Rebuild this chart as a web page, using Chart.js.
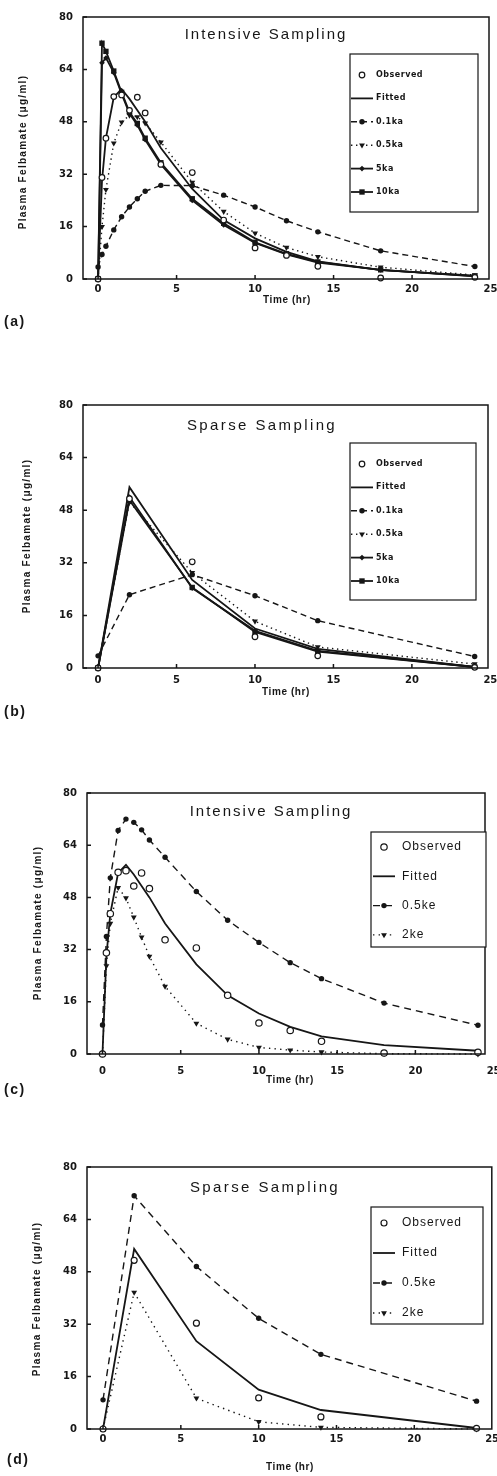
<!DOCTYPE html>
<html>
<head>
<meta charset="utf-8">
<script src="https://cdn.jsdelivr.net/npm/chart.js@4.4.0/dist/chart.umd.min.js"></script>
<style>
  html, body { margin: 0; padding: 0; background: #fff; }
  #page { position: relative; width: 497px; height: 1476px; overflow: hidden; }
  canvas { position: absolute; left: 0; }
</style>
</head>
<body>
<div id="page">
  <canvas id="pa" width="497" height="340" style="top:0px"></canvas>
  <canvas id="pb" width="497" height="370" style="top:360px"></canvas>
  <canvas id="pc" width="497" height="370" style="top:740px"></canvas>
  <canvas id="pd" width="497" height="366" style="top:1110px"></canvas>
</div>
<script>
// sampling times and ticks
const tIntensive = [0, 0.25, 0.5, 1, 1.5, 2, 2.5, 3, 4, 6, 8, 10, 12, 14, 18, 24];
const tSparse = [0, 2, 6, 10, 14, 24];
const xTicks = [0, 5, 10, 15, 20, 25];
const yTicks = [0, 16, 32, 48, 64, 80];

// intensive sampling (ug/ml)
const obsIntensive = [0, 31, 43, 55.7, 56.2, 51.5, 55.5, 50.7, 35, 32.5, 18, 9.5, 7.2, 3.9, 0.3, 0.5];
const fitIntensive = [0, 30, 43, 55.5, 58, 55, 51.5, 48, 40, 27.5, 18, 12.4, 8.3, 5.4, 2.7, 1];
const ka01Intensive = [3.7, 7.5, 10, 15, 19, 22, 24.5, 26.8, 28.6, 28.5, 25.6, 22, 17.8, 14.4, 8.6, 3.8];
const ka05Intensive = [0, 16, 27.3, 41.5, 47.9, 50, 49.5, 47.6, 41.8, 29.5, 20.6, 14, 9.6, 6.8, 3.6, 1.2];
const ka5Intensive = [0, 66, 67.5, 63, 56.5, 50.5, 47, 42.5, 35, 24, 16.5, 11, 7.5, 5, 2.8, 0.8];
const ka10Intensive = [0, 72, 69.5, 63.5, 57, 51, 47.5, 43, 35.5, 24.5, 17, 11.2, 7.7, 5.2, 2.8, 0.9];
const ke05Intensive = [8.9, 36, 54, 68.5, 72, 71, 68.7, 65.6, 60.3, 49.8, 41, 34.2, 28, 23.1, 15.6, 8.8];
const ke2Intensive = [0, 27, 40, 51, 47.8, 41.9, 35.8, 29.9, 20.7, 9.4, 4.5, 2, 1.2, 0.6, 0.1, 0];

// sparse sampling
const obsSparse = [0, 51.5, 32.3, 9.5, 3.7, 0.2];
const fitSparse = [0, 55, 26.8, 12, 5.8, 0.3];
const ka01Sparse = [3.7, 22.3, 28.4, 22, 14.4, 3.5];
const ka05Sparse = [0, 50.5, 29, 14.2, 6.4, 1.2];
const ka5Sparse = [0, 52, 24.3, 11.3, 5.2, 0.3];
const ka10Sparse = [0, 51, 24.5, 11, 5, 0.3];
const ke05Sparse = [8.9, 71.2, 49.6, 33.8, 22.8, 8.5];
const ke2Sparse = [0, 41.7, 9.4, 2.2, 0.5, 0];

const INK = '#161616';
const SANS = "'Liberation Sans', Arial, sans-serif";
const TICK = "'DejaVu Sans', sans-serif";

// series styles
const ST = {
  obs:  { showLine: false, pointStyle: 'circle', pointRadius: 2.8, pointBackgroundColor: '#fff', pointBorderWidth: 1.2 },
  fit:  { borderWidth: 1.8, pointRadius: 0 },
  dash: { borderWidth: 1.4, borderDash: [6, 4], pointStyle: 'circle', pointRadius: 2.7, pointBackgroundColor: INK, pointBorderWidth: 0 },
  dot:  { borderWidth: 1.4, borderDash: [1.4, 3.6], pointStyle: 'triangle', pointRotation: 180, pointRadius: 3.4, pointBackgroundColor: INK, pointBorderWidth: 0 },
  ka5:  { borderWidth: 1.8, pointStyle: 'rectRot', pointRadius: 2.8, pointBackgroundColor: INK, pointBorderWidth: 0 },
  ka10: { borderWidth: 1.8, pointStyle: 'rect', pointRadius: 3.8, pointBackgroundColor: INK, pointBorderWidth: 0 }
};

function series(label, ts, vals, st) {
  return Object.assign({
    label: label,
    data: ts.map((t, i) => ({ x: t, y: vals[i] })),
    borderColor: INK, pointBorderColor: INK, backgroundColor: INK,
    tension: 0, fill: false, clip: false
  }, st);
}

// draw text with letter spacing
function text(ctx, s, x, y, font, spacing, align) {
  ctx.font = font;
  ctx.letterSpacing = spacing + 'px';
  ctx.textAlign = align || 'center';
  ctx.textBaseline = 'middle';
  ctx.fillText(s, x, y);
}

const decor = {
  id: 'decor',
  afterDraw(chart, args, o) {
    const ctx = chart.ctx, a = chart.chartArea, off = o.top;
    const xs = chart.scales.x, ys = chart.scales.y;
    ctx.save();
    ctx.fillStyle = INK;
    ctx.strokeStyle = INK;

    // frame + inward ticks
    ctx.lineWidth = 1.5;
    ctx.strokeRect(a.left, a.top, a.right - a.left, a.bottom - a.top);
    ctx.beginPath();
    xTicks.forEach(v => {
      const px = xs.getPixelForValue(v);
      if (px < a.right - 1) { ctx.moveTo(px, a.bottom); ctx.lineTo(px, a.bottom - 4); }
    });
    yTicks.forEach(v => {
      const py = ys.getPixelForValue(v);
      ctx.moveTo(a.left, py); ctx.lineTo(a.left + 4, py);
    });
    ctx.stroke();

    // titles
    text(ctx, o.title, o.titleX, o.titleY - off, '15px ' + SANS, o.titleSp);
    text(ctx, 'Time (hr)', o.xTitleX, o.xTitleY - off, 'bold 10px ' + SANS, 0.6);
    text(ctx, o.letter, o.letterX, o.letterY - off, 'bold 14px ' + SANS, 1.5, 'left');
    ctx.save();
    ctx.translate(o.yTitleX, o.yTitleY - off);
    ctx.rotate(-Math.PI / 2);
    text(ctx, 'Plasma Felbamate (\u03bcg/ml)', 0, 0, 'bold 10px ' + SANS, 1.3);
    ctx.restore();

    // legend box
    const L = o.legend;
    ctx.fillStyle = '#fff';
    ctx.fillRect(L.x1, L.y1 - off, L.x2 - L.x1, L.y2 - L.y1);
    ctx.lineWidth = 1.2;
    ctx.strokeRect(L.x1, L.y1 - off, L.x2 - L.x1, L.y2 - L.y1);
    chart.data.datasets.forEach((d, i) => {
      const y = L.y0 + i * L.dy - off;
      ctx.save();
      if (d.showLine !== false) {
        ctx.lineWidth = d.borderWidth;
        ctx.setLineDash(d.borderDash || []);
        ctx.beginPath();
        ctx.moveTo(L.lx1, y); ctx.lineTo(L.lx2, y);
        ctx.stroke();
      }
      ctx.setLineDash([]);
      if (d.pointRadius > 0) {
        ctx.fillStyle = d.pointBackgroundColor;
        ctx.lineWidth = d.pointBorderWidth;
        Chart.helpers.drawPoint(ctx, {
          pointStyle: d.pointStyle, rotation: d.pointRotation || 0,
          radius: d.pointRadius, borderWidth: d.pointBorderWidth
        }, (L.lx1 + L.lx2) / 2, y);
      }
      ctx.restore();
      ctx.fillStyle = INK;
      text(ctx, d.label, L.tx, y, L.font, L.sp, 'left');
    });
    ctx.restore();
  }
};

function makePanel(id, p, datasets) {
  const el = document.getElementById(id);
  const h = el.height;
  return new Chart(el, {
    type: 'line',
    data: { datasets: datasets },
    plugins: [decor],
    options: {
      responsive: false,
      animation: false,
      devicePixelRatio: 1,
      layout: { padding: { left: 0, top: p.T - p.top, right: 497 - p.R, bottom: h - (p.B - p.top) - 30 } },
      plugins: { legend: { display: false }, tooltip: { enabled: false }, decor: p },
      scales: {
        x: {
          type: 'linear', min: p.xmin, max: p.xmax,
          afterBuildTicks: s => { s.ticks = xTicks.map(v => ({ value: v })); },
          afterFit: s => { s.height = 30; s.paddingLeft = 0; s.paddingRight = 0; },
          ticks: { autoSkip: false, maxRotation: 0, padding: p.xpad, color: INK, font: { family: TICK, size: 10, weight: 'bold' } },
          grid: { display: false, drawTicks: false },
          border: { display: false }
        },
        y: {
          min: 0, max: 80,
          afterBuildTicks: s => { s.ticks = yTicks.map(v => ({ value: v })); },
          afterFit: s => { s.width = p.L; s.paddingTop = 0; s.paddingBottom = 0; },
          ticks: { padding: 10, color: INK, font: { family: TICK, size: 10, weight: 'bold' } },
          grid: { display: false, drawTicks: false },
          border: { display: false }
        }
      }
    }
  });
}

const smallLegend = { font: 'bold 8px ' + TICK, sp: 0.5, lx1: 351, lx2: 373, tx: 376 };
const bigLegend = { font: '12px ' + SANS, sp: 1, lx1: 373, lx2: 395, tx: 402 };

makePanel('pa', {
  top: 0, L: 83, R: 489, T: 17, B: 279, xmin: -0.96, xmax: 24.9, xpad: 4,
  title: 'Intensive Sampling', titleX: 266, titleY: 35, titleSp: 2,
  xTitleX: 287, xTitleY: 300, yTitleX: 23, yTitleY: 152, letter: '(a)', letterX: 4, letterY: 322,
  legend: Object.assign({ x1: 350, y1: 54, x2: 478, y2: 212, y0: 75, dy: 23.4 }, smallLegend)
}, [
  series('Observed', tIntensive, obsIntensive, ST.obs),
  series('Fitted', tIntensive, fitIntensive, ST.fit),
  series('0.1ka', tIntensive, ka01Intensive, ST.dash),
  series('0.5ka', tIntensive, ka05Intensive, ST.dot),
  series('5ka', tIntensive, ka5Intensive, ST.ka5),
  series('10ka', tIntensive, ka10Intensive, ST.ka10)
]);

makePanel('pb', {
  top: 360, L: 83, R: 488, T: 405, B: 668, xmin: -0.96, xmax: 24.85, xpad: 6,
  title: 'Sparse Sampling', titleX: 262, titleY: 426, titleSp: 2.4,
  xTitleX: 286, xTitleY: 692, yTitleX: 27, yTitleY: 536, letter: '(b)', letterX: 4, letterY: 712,
  legend: Object.assign({ x1: 350, y1: 443, x2: 476, y2: 600, y0: 464, dy: 23.4 }, smallLegend)
}, [
  series('Observed', tSparse, obsSparse, ST.obs),
  series('Fitted', tSparse, fitSparse, ST.fit),
  series('0.1ka', tSparse, ka01Sparse, ST.dash),
  series('0.5ka', tSparse, ka05Sparse, ST.dot),
  series('5ka', tSparse, ka5Sparse, ST.ka5),
  series('10ka', tSparse, ka10Sparse, ST.ka10)
]);

makePanel('pc', {
  top: 740, L: 87, R: 485, T: 793, B: 1054, xmin: -0.99, xmax: 24.45, xpad: 11,
  title: 'Intensive Sampling', titleX: 271, titleY: 812, titleSp: 2,
  xTitleX: 290, xTitleY: 1080, yTitleX: 38, yTitleY: 923, letter: '(c)', letterX: 4, letterY: 1090,
  legend: Object.assign({ x1: 371, y1: 832, x2: 486, y2: 947, y0: 847, dy: 29.3 }, bigLegend)
}, [
  series('Observed', tIntensive, obsIntensive, Object.assign({}, ST.obs, { pointRadius: 3.2 })),
  series('Fitted', tIntensive, fitIntensive, ST.fit),
  series('0.5ke', tIntensive, ke05Intensive, Object.assign({}, ST.dash, { borderDash: [7, 5] })),
  series('2ke', tIntensive, ke2Intensive, Object.assign({}, ST.dot, { borderDash: [1.4, 4.2] }))
]);

makePanel('pd', {
  top: 1110, L: 87, R: 492, T: 1167, B: 1429, xmin: -1.03, xmax: 24.98, xpad: 4,
  title: 'Sparse Sampling', titleX: 265, titleY: 1188, titleSp: 2.4,
  xTitleX: 290, xTitleY: 1467, yTitleX: 37, yTitleY: 1299, letter: '(d)', letterX: 7, letterY: 1460,
  legend: Object.assign({ x1: 371, y1: 1207, x2: 483, y2: 1324, y0: 1223, dy: 30 }, bigLegend)
}, [
  series('Observed', tSparse, obsSparse, Object.assign({}, ST.obs, { pointRadius: 3 })),
  series('Fitted', tSparse, fitSparse, ST.fit),
  series('0.5ke', tSparse, ke05Sparse, Object.assign({}, ST.dash, { borderDash: [7, 5] })),
  series('2ke', tSparse, ke2Sparse, Object.assign({}, ST.dot, { borderDash: [1.4, 4.2] }))
]);
</script>
</body>
</html>
